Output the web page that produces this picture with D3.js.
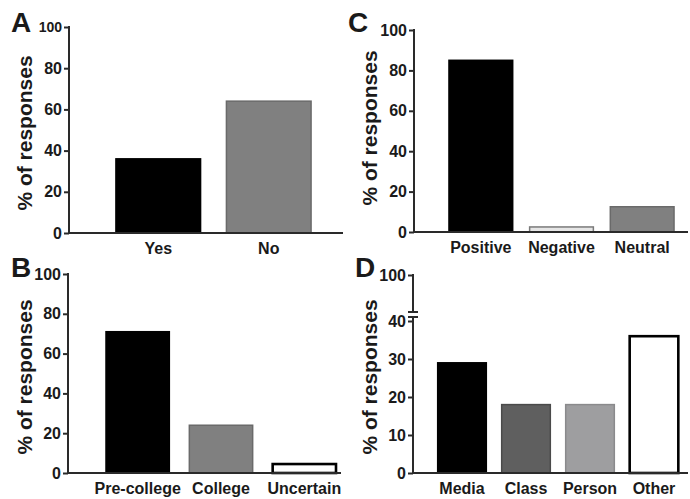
<!DOCTYPE html>
<html>
<head>
<meta charset="utf-8">
<script src="https://cdn.jsdelivr.net/npm/d3@7"></script>
<style>
  html, body { margin: 0; padding: 0; background: #fff; }
  svg { display: block; }
  text { font-family: "Liberation Sans", Arial, sans-serif; font-weight: bold; fill: #1a1a1a; }
</style>
</head>
<body>
<svg id="chart" width="690" height="499"></svg>
<script>
// ---- Data ----
const panelACategories = ["Yes", "No"];
const panelAValues = [36, 64];

const panelBCategories = ["Pre-college", "College", "Uncertain"];
const panelBValues = [71, 24, 4.5];

const panelCCategories = ["Positive", "Negative", "Neutral"];
const panelCValues = [85, 2.5, 12.5];

const panelDCategories = ["Media", "Class", "Person", "Other"];
const panelDValues = [29, 18, 18, 36];

const yTicksStandard = [0, 20, 40, 60, 80, 100];
const yTicksBroken = [0, 10, 20, 30, 40, 100];
const yAxisTitle = "% of responses";

// ---- Styles ----
const fillsA = ["#000000", "#808080"];
const strokesA = ["#000000", "#6a6a6a"];
const fillsB = ["#000000", "#808080", "#ffffff"];
const strokesB = ["#000000", "#6a6a6a", "#000000"];
const fillsC = ["#000000", "#e6e6e6", "#808080"];
const strokesC = ["#000000", "#7a7a7a", "#6a6a6a"];
const fillsD = ["#000000", "#5f5f5f", "#9e9ea0", "#ffffff"];
const strokesD = ["#000000", "#4a4a4a", "#8a8a8c", "#000000"];

const svg = d3.select("#chart");
const AXIS_COLOR = "#2a2a2a";

function drawPanel(cfg) {
  const g = svg.append("g");
  const y = d3.scaleLinear().domain(cfg.yDomain).range(cfg.yRange);
  const x = d3.scaleBand().domain(cfg.categories).range(cfg.xBand)
    .paddingInner(cfg.padInner).paddingOuter(cfg.padInner / 2);
  const y0 = y(0);

  // bars
  g.selectAll("rect.bar").data(cfg.values).enter().append("rect")
    .attr("class", "bar")
    .attr("x", (d, i) => x(cfg.categories[i]))
    .attr("width", x.bandwidth())
    .attr("y", d => y(d))
    .attr("height", d => y0 - y(d))
    .attr("fill", (d, i) => cfg.fills[i])
    .attr("stroke", (d, i) => cfg.strokes[i])
    .attr("stroke-width", (d, i) => cfg.fills[i] === "#ffffff" ? 2.6 : 1.5);

  // y axis ticks + labels
  const yAxis = d3.axisLeft(y).tickValues(cfg.yTicks).tickSize(5).tickPadding(2)
    .tickFormat(d3.format("d"));
  const ya = g.append("g").attr("transform", `translate(${cfg.axisX},0)`).call(yAxis);
  ya.select(".domain").remove();
  ya.selectAll(".tick line").attr("stroke", AXIS_COLOR).attr("stroke-width", 2);
  ya.selectAll(".tick text")
    .style("font-size", d => (d === 100 && cfg.smallTop ? "14px" : "16px"))
    .style("font-family", "'Liberation Sans', Arial, sans-serif")
    .style("font-weight", "bold")
    .attr("fill", "#1a1a1a");

  // y axis line (with optional break)
  if (cfg.breakAt !== undefined) {
    const yb = y(cfg.breakAt);
    const segs = [[y(100), yb - 9], [yb - 4, y0]];
    segs.forEach(s => g.append("line")
      .attr("x1", cfg.axisX).attr("x2", cfg.axisX)
      .attr("y1", s[0] - 1).attr("y2", s[1] + (s[1] === y0 ? 1 : 0))
      .attr("stroke", AXIS_COLOR).attr("stroke-width", 2));
    [yb - 9, yb - 4].forEach(v => g.append("line")
      .attr("x1", cfg.axisX - 5).attr("x2", cfg.axisX + 5)
      .attr("y1", v).attr("y2", v)
      .attr("stroke", AXIS_COLOR).attr("stroke-width", 2));
  } else {
    g.append("line")
      .attr("x1", cfg.axisX).attr("x2", cfg.axisX)
      .attr("y1", y(cfg.yDomain[cfg.yDomain.length - 1]) - 1).attr("y2", y0 + 1)
      .attr("stroke", AXIS_COLOR).attr("stroke-width", 2);
  }

  // x axis
  const xAxis = d3.axisBottom(x).tickSize(0).tickPadding(9.5);
  const xa = g.append("g").attr("transform", `translate(0,${y0})`).call(xAxis);
  xa.select(".domain").remove();
  xa.selectAll(".tick text")
    .style("font-size", "16px")
    .style("font-family", "'Liberation Sans', Arial, sans-serif")
    .style("font-weight", "bold")
    .attr("fill", "#1a1a1a");
  g.append("line")
    .attr("x1", cfg.axisX).attr("x2", cfg.xEnd)
    .attr("y1", y0).attr("y2", y0)
    .attr("stroke", AXIS_COLOR).attr("stroke-width", 2);

  // y axis title
  g.append("text")
    .attr("transform", `translate(${cfg.titleX},${cfg.titleY}) rotate(-90)`)
    .attr("text-anchor", "middle")
    .style("font-size", "21px")
    .text(yAxisTitle);

  // panel letter
  g.append("text")
    .attr("x", cfg.letterX).attr("y", cfg.letterY)
    .style("font-size", "28px")
    .text(cfg.letter);
}

drawPanel({
  letter: "A", letterX: 11, letterY: 32,
  categories: panelACategories, values: panelAValues, fills: fillsA, strokes: strokesA,
  yDomain: [0, 100], yRange: [233, 27], yTicks: yTicksStandard, smallTop: true,
  axisX: 69, xEnd: 343, xBand: [103, 324], padInner: 0.234,
  titleX: 32, titleY: 133
});

drawPanel({
  letter: "B", letterX: 11, letterY: 277,
  categories: panelBCategories, values: panelBValues, fills: fillsB, strokes: strokesB,
  yDomain: [0, 100], yRange: [473, 274], yTicks: yTicksStandard,
  axisX: 68, xEnd: 341, xBand: [96, 346], padInner: 0.24,
  titleX: 32, titleY: 377
});

drawPanel({
  letter: "C", letterX: 348, letterY: 32,
  categories: panelCCategories, values: panelCValues, fills: fillsC, strokes: strokesC,
  yDomain: [0, 100], yRange: [232, 30], yTicks: yTicksStandard,
  axisX: 414, xEnd: 688, xBand: [440.5, 682.5], padInner: 0.21,
  titleX: 377, titleY: 128
});

drawPanel({
  letter: "D", letterX: 355, letterY: 277,
  categories: panelDCategories, values: panelDValues, fills: fillsD, strokes: strokesD,
  yDomain: [0, 40, 100], yRange: [473, 321, 275], yTicks: yTicksBroken, breakAt: 40,
  axisX: 413, xEnd: 688, xBand: [430, 686], padInner: 0.24,
  titleX: 377, titleY: 377
});
</script>
</body>
</html>
